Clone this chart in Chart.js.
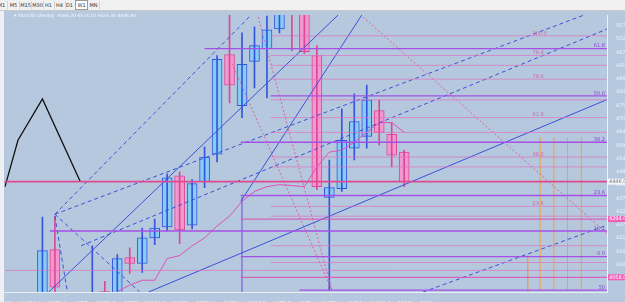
<!DOCTYPE html>
<html><head><meta charset="utf-8">
<script src="https://cdn.jsdelivr.net/npm/chart.js@4.4.1/dist/chart.umd.min.js"></script>
<style>
html,body{margin:0;padding:0;background:#eef0f3;width:625px;height:302px;overflow:hidden;font-family:"DejaVu Sans",sans-serif}
#bar{position:absolute;left:0;top:0;width:625px;height:10px;background:#f1f1f1;border-bottom:1px solid #c8c8c8;white-space:nowrap;overflow:hidden}
#bar span{position:absolute;top:1px;height:8px;line-height:8px;font-size:5px;color:#333;text-align:center;width:11px;border-right:1px solid #d4d4d4}
#bar span.on{background:#fff;border:1px solid #9a9a9a;top:0px}
#wrap{position:absolute;left:4px;top:11px;width:621px;height:291px}
#title{position:absolute;left:14px;top:13px;font-size:4.5px;color:#f4f6ff;white-space:nowrap}
</style></head><body>
<div id="bar"><span style="left:-4px">M1</span><span style="left:8px">M5</span><span style="left:20px">M15</span><span style="left:32px">M30</span><span style="left:43px">H1</span><span style="left:54px">H4</span><span style="left:64px">D1</span><span class="on" style="left:75px">W1</span><span style="left:88px">MN</span></div>
<div id="wrap"><canvas id="c" width="621" height="291"></canvas></div>
<div id="title">&#9662; XAUUSD,Weekly &nbsp;4566.20 4574.10 4426.30 4446.40</div>
<script>
// ---------- data ----------
const candleIdx = [0,1,2,3,4,5,6,7,8,9,10,11,12,13,14,15,16,17,18,19,20,21,22,23,24,25,26,27,28,29];
const opens  = [3966,4170,3950,3900,3900,4000,3980,4138,4114,4218,4262,4470,4270,4446,4558,4962,4754,4934,4986,5066,5300,5134,4958,4382,4418,4582,4630,4734,4638,4566];
const highs  = [4302,4306,3990,3980,4186,4042,4150,4178,4258,4294,4478,4486,4454,4586,4958,5134,5050,5074,5118,5180,5350,5200,4998,4534,4742,4802,4838,4778,4686,4574];
const lows   = [3886,3946,3850,3820,3850,3950,3950,4074,4078,4190,4246,4194,4254,4422,4526,4766,4706,4826,4786,5050,4978,4966,4414,4006,4406,4534,4582,4594,4506,4426];
const closes = [4166,4018,3900,3930,3990,3990,4134,4114,4218,4258,4462,4250,4438,4546,4942,4838,4922,4998,5062,5146,5140,4974,4426,4422,4614,4690,4778,4646,4554,4446];

const dateTickIdx = [-3,-1,1,3,5,7,9,11,13,15,17,19,21,23,25,27,29];
const dateLabels = ["27 Jul 2025","10 Aug 2025","24 Aug 2025","7 Sep 2025","21 Sep 2025","5 Oct 2025","19 Oct 2025","2 Nov 2025","16 Nov 2025","30 Nov 2025","14 Dec 2025","28 Dec 2025","11 Jan 2026","25 Jan 2026","8 Feb 2026","22 Feb 2026","8 Mar 2026"];
const priceTicks = [5078.32,5024.50,4970.68,4916.86,4863.04,4809.22,4755.40,4701.58,4647.76,4593.94,4540.12,4486.30,4432.48,4378.66,4324.84,4271.02,4217.20,4163.38,4109.56,4055.74];

const slowMA = [4000,4026,4046,4046,4134,4146,4186,4218,4266,4306,4366,4406,4426,4434,4430,4426,4506,4566,4574,4606,4646,4686,4686,4646];   // idx 6..29
const maStart = 6;

// fib / level lines
const majorLevels   = [4986,4794,4606,4390,4246,4142,4006];
const majorStartIdx = [13,18.3,15.9,15.9,0.6,15.9,20.6];
const majorTags     = ["61.8","50.0","38.2","23.6","16.1","0.0","50"];
const minorLevels   = [5038,4958,4918,4862,4778,4706,4646,4546,4506,4346,4306,4186,4118,4086];
const minorStartIdx = [18.3,18.3,18.3,18.3,18.3,18.3,18.3,18.3,18.3,18.3,18.3,18.3,18.3,-3];
const minorTags     = ["100.0","76.4","","78.6","","61.8","","38.2","","23.6","","","",""];
const priceLine = 4446;
const magentaLevels = [4294,4058];

// trend lines: [x1,y1,x2,y2] in (candle index, price)
const dashedBlue = [[1,4314,45.3,5158],[1,4314,16.8,5126],[1,4314,7.8,3998],[3.1,4186,45.3,5066],[30.5,3998,45.3,4270],[1,4306,2,3998]];
const solidBlue  = [[0.5,3998,23.7,5122],[8.5,3998,45.3,4780],[15.9,4366,25.6,5122]];
const dottedPink = [[17.3,5114,23.2,4006],[15.2,4926,23.2,4006],[25.7,5114,45.3,4234]];
const zigzagX = [-3,-1.96,0,3.04];
const zigzagY = [4426,4614,4782,4446];
const futureX = [38.9,39.9,41.0,42.1,43.2];
const futureTop = [3998,4626,4626,4626,4626];
const futureBottom = [4146,4006,4006,4006,4006];
const sepX = [16];
const sepTop = [4386];

// ---------- build ----------
const BULL_FILL='#88ccf4', BULL_LINE='#3555dc', BEAR_FILL='#f297cf', BEAR_LINE='#da4a94';
const bull = candleIdx.map(i=>closes[i]>=opens[i]);
function seg(a,style){return Object.assign({type:'line',data:[{x:a[0],y:a[1]},{x:a[2],y:a[3]}],pointRadius:0,borderWidth:1,fill:false,tension:0},style);}
const ds=[];
majorLevels.forEach((p,k)=>ds.push(seg([majorStartIdx[k],p,45.3,p],{borderColor:'#a64fe6',borderWidth:1.4})));
minorLevels.forEach((p,k)=>ds.push(seg([minorStartIdx[k],p,45.3,p],{borderColor:'rgba(226,110,190,0.85)',borderWidth:0.8})));
magentaLevels.forEach(p=>ds.push(seg([15.9,p,45.3,p],{borderColor:'#e24bb4',borderWidth:1})));
ds.push(seg([-3.1,priceLine,45.3,priceLine],{borderColor:'#e0488f',borderWidth:1.6}));
dashedBlue.forEach(a=>ds.push(seg(a,{borderColor:'#3a52d8',borderDash:[4,3]})));
solidBlue.forEach(a=>ds.push(seg(a,{borderColor:'#3a52d8'})));
dottedPink.forEach(a=>ds.push(seg(a,{borderColor:'#e0609a',borderDash:[2,2]})));
ds.push({type:'line',data:zigzagX.map((x,k)=>({x,y:zigzagY[k]})),borderColor:'#111',borderWidth:1.3,pointRadius:0,tension:0});
futureX.forEach((x,k)=>ds.push(seg([x,futureBottom[k],x,futureTop[k]],{borderColor:'#f0a040',borderWidth:1})));
sepX.forEach((x,k)=>ds.push(seg([x,3998,x,sepTop[k]],{borderColor:'#6a4fe0',borderWidth:1})));
ds.push({type:'line',data:slowMA.map((v,k)=>({x:k+maStart,y:v})),borderColor:'#e050b8',borderWidth:1,pointRadius:0,tension:0});
ds.push({type:'bar',grouped:false,barThickness:1,data:candleIdx.filter(i=>bull[i]).map(i=>({x:i,y:[lows[i],highs[i]]})),backgroundColor:BULL_LINE,borderWidth:0});
ds.push({type:'bar',grouped:false,barThickness:1,data:candleIdx.filter(i=>!bull[i]).map(i=>({x:i,y:[lows[i],highs[i]]})),backgroundColor:BEAR_LINE,borderWidth:0});
ds.push({type:'bar',grouped:false,barThickness:10,data:candleIdx.filter(i=>bull[i]).map(i=>({x:i,y:[opens[i],closes[i]]})),backgroundColor:BULL_FILL,borderColor:BULL_LINE,borderWidth:1,borderSkipped:false});
ds.push({type:'bar',grouped:false,barThickness:10,data:candleIdx.filter(i=>!bull[i]).map(i=>({x:i,y:[opens[i],closes[i]]})),backgroundColor:BEAR_FILL,borderColor:BEAR_LINE,borderWidth:1,borderSkipped:false});

const bg={id:'bg',beforeDraw(ch){const c=ch.ctx;c.save();c.fillStyle='#b5c8de';c.fillRect(0,0,ch.width,ch.height);c.restore();}};
const tags={id:'tags',afterDatasetsDraw(ch){
  const c=ch.ctx,y=ch.scales.y,a=ch.chartArea;c.save();c.font='5px "DejaVu Sans"';c.textAlign='right';c.textBaseline='bottom';
  c.fillStyle='#8a3fd6';majorLevels.forEach((p,k)=>c.fillText(majorTags[k],a.right-2,y.getPixelForValue(p)));
  c.fillStyle='#c86aa8';c.textAlign='left';minorLevels.forEach((p,k)=>{if(minorTags[k])c.fillText(minorTags[k],a.left+528,y.getPixelForValue(p));});
  const box=(p,f,t)=>{const py=y.getPixelForValue(p);c.fillStyle=f;c.fillRect(a.right+1,py-3,17,6);c.fillStyle=t;c.textAlign='left';c.textBaseline='middle';c.fillText(p.toFixed(2),a.right+2,py);};
  box(priceLine,'#f4f6fb','#777');magentaLevels.forEach(p=>box(p,'#ee5fb6','#fff'));
  c.restore();}};
new Chart(document.getElementById('c'),{
  data:{datasets:ds},
  plugins:[bg,tags],
  options:{responsive:false,animation:false,events:[],layout:{padding:0},
    plugins:{legend:{display:false},tooltip:{enabled:false}},
    scales:{
      x:{type:'linear',min:-3.044,max:45.26,offset:false,grid:{display:false},border:{color:'#e8eef8'},
        afterBuildTicks(s){s.ticks=dateTickIdx.map(v=>({value:v}));},
        afterFit(s){s.height=10;},
        ticks:{autoSkip:false,maxRotation:0,align:'start',padding:1,color:'#eef2fa',font:{size:5,family:'DejaVu Sans'},callback:(v)=>dateLabels[dateTickIdx.indexOf(v)]||''}},
      y:{type:'linear',position:'right',min:3998.32,max:5122.32,grid:{display:false},border:{color:'#eef2fa'},
        afterBuildTicks(s){s.ticks=priceTicks.map(v=>({value:v}));},
        afterFit(s){s.width=18;},
        ticks:{padding:1,color:'#eef2fa',font:{size:5,family:'DejaVu Sans'},callback:v=>v.toFixed(2)}}
    }}
});
</script></body></html>
